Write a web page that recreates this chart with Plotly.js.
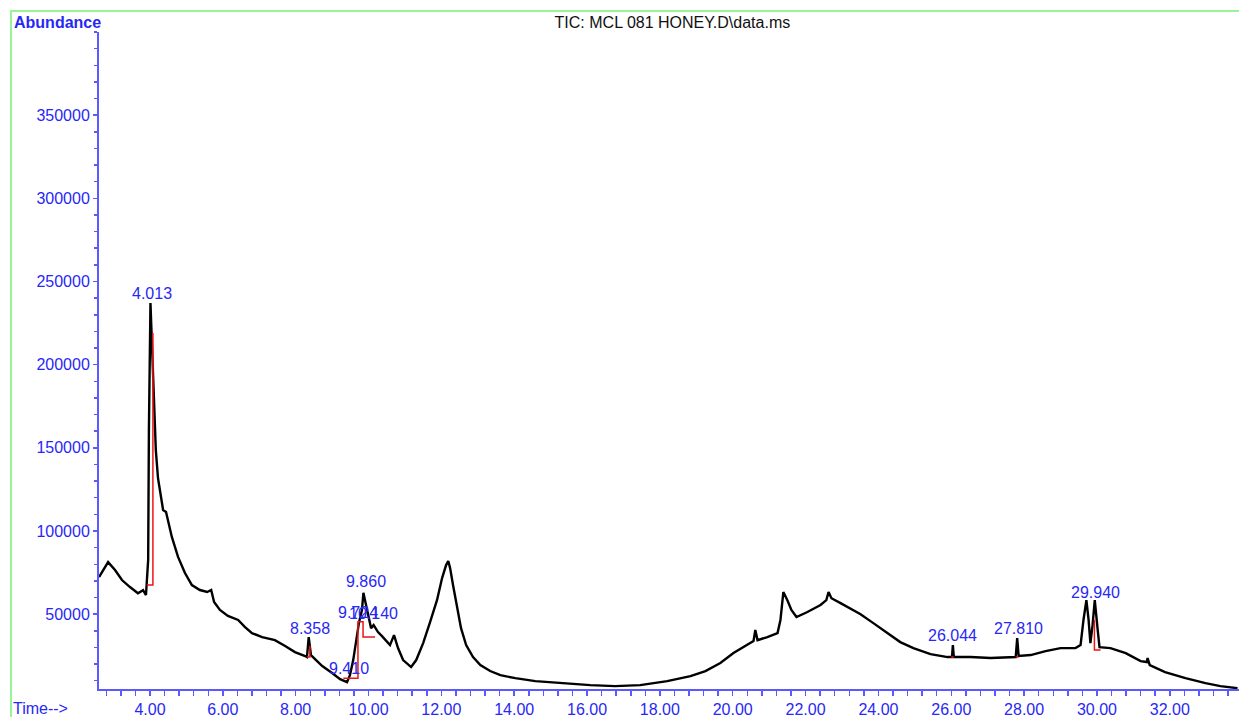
<!DOCTYPE html>
<html>
<head>
<meta charset="utf-8">
<script src="https://cdn.plot.ly/plotly-3.0.1.min.js"></script>
<style>
  html, body { margin: 0; padding: 0; background: #fff; }
  #wrap { position: relative; width: 1239px; height: 717px; overflow: hidden; }
  #chart { position: absolute; left: 0; top: 0; width: 1239px; height: 717px; }
  #frame { position: absolute; left: 10px; top: 10px; width: 1240px; height: 720px;
           border-top: 2px solid rgb(150,245,150); border-left: 2px solid rgb(150,245,150);
           pointer-events: none; }
</style>
</head>
<body>
<div id="wrap"><div id="chart"></div><div id="frame"></div></div>
<script>
// Total ion chromatogram (time in minutes, abundance in counts)
const timeMin = [
  2.60, 2.71, 2.85, 3.04, 3.23, 3.45, 3.67, 3.81, 3.89, 3.95, 3.97, 4.013,
  4.05, 4.11, 4.16, 4.22, 4.30, 4.36, 4.44, 4.52, 4.60, 4.77, 4.96, 5.15,
  5.37, 5.57, 5.68, 5.76, 5.92, 6.14, 6.42, 6.61, 6.80, 7.08, 7.43, 7.71,
  7.98, 8.26, 8.31, 8.358, 8.42, 8.56, 8.73, 9.00, 9.22, 9.41, 9.49, 9.58,
  9.66, 9.74, 9.82, 9.86, 9.93, 9.99, 10.07, 10.14, 10.26, 10.37, 10.48, 10.59,
  10.70, 10.81, 10.95, 11.09, 11.17, 11.31, 11.50, 11.69, 11.88, 12.02, 12.13, 12.19,
  12.24, 12.32, 12.43, 12.54, 12.68, 12.87, 13.07, 13.34, 13.62, 14.03, 14.58, 15.26,
  16.09, 16.77, 17.46, 18.20, 18.84, 19.25, 19.66, 20.02, 20.40, 20.57, 20.62, 20.68,
  20.95, 21.23, 21.31, 21.39, 21.50, 21.61, 21.75, 22.05, 22.41, 22.57, 22.63, 22.71,
  22.96, 23.23, 23.51, 23.86, 24.25, 24.60, 24.96, 25.43, 25.90, 26.02, 26.044, 26.07,
  26.53, 27.08, 27.77, 27.810, 27.85, 28.18, 28.59, 29.00, 29.41, 29.55, 29.63, 29.71,
  29.77, 29.82, 29.88, 29.94, 30.02, 30.07, 30.37, 30.79, 31.20, 31.37, 31.39, 31.45,
  31.87, 32.43, 32.98, 33.39, 33.86
];
const abundance = [
  72300, 76500, 81300, 76500, 70500, 66300, 62600, 64400, 61500, 82600, 160700, 237000,
  214800, 178700, 148600, 131800, 121600, 112600, 111400, 103600, 96400, 84400, 74700, 67500,
  64500, 63300, 64500, 57300, 52500, 48900, 46500, 42200, 38600, 36200, 34400, 30800,
  27200, 24800, 24200, 36200, 25400, 22400, 18800, 14600, 10900, 9100, 13300, 22400,
  32600, 45200, 52400, 62800, 55600, 49400, 41600, 43400, 39200, 36800, 34400, 31400,
  37400, 29600, 22400, 19400, 18200, 22400, 32600, 45200, 58400, 71700, 79500, 81900,
  77700, 67500, 53600, 41600, 31400, 24200, 19400, 15800, 13300, 11500, 9700, 8500,
  7300, 6700, 7300, 9700, 12700, 15800, 20600, 26600, 31400, 33800, 40500, 34400,
  36200, 38600, 46500, 63300, 58400, 52500, 48300, 51300, 55500, 58400, 63300, 59600,
  56600, 53600, 50000, 44600, 38600, 33200, 29600, 26000, 24200, 24200, 31400, 24200,
  24200, 23600, 24200, 35600, 24800, 25400, 27800, 29600, 29600, 31400, 46500, 58400,
  46500, 32600, 43400, 58400, 40500, 30200, 29600, 26600, 21800, 21200, 23600, 19400,
  15200, 11500, 8500, 6700, 5500
];

// Integration baselines / drop lines (segments separated by null)
const baseTime = [3.91, 4.08, 4.08, null,
                  8.31, 8.39, 8.39, null,
                  9.31, 9.71, 9.71, 9.85, 9.85, 10.18, null,
                  26.00, 26.07, null,
                  27.77, 27.84, null,
                  29.93, 29.93, 30.10];
const baseAbund = [67600, 67600, 219000, null,
                   24200, 24200, 31000, null,
                   11500, 11500, 45400, 45400, 36200, 36200, null,
                   24200, 24200, null,
                   24200, 24200, null,
                   46600, 28400, 28400];

// Peak labels
const peakLabels = ["4.013", "8.358", "9.860", "9.724", "10.140", "9.410", "26.044", "27.810", "29.940"];
const peakLabelTime = [4.05, 8.40, 9.92, 9.71, 10.14, 9.46, 26.044, 27.85, 29.96];
const peakLabelAbund = [243000, 41600, 69900, 51200, 50600, 17600, 37400, 41600, 63300];

const yTickVals = [50000, 100000, 150000, 200000, 250000, 300000, 350000];
const xTickVals = [4, 6, 8, 10, 12, 14, 16, 18, 20, 22, 24, 26, 28, 30, 32];

const BLUE = 'rgb(40,40,245)';
const AXIS = 'rgb(90,90,255)';
const FONT = 'Liberation Sans, Arial, Helvetica, sans-serif';

const traces = [
  { x: timeMin, y: abundance, type: 'scatter', mode: 'lines',
    line: { color: '#000', width: 2.4 }, hoverinfo: 'x+y' },
  { x: baseTime, y: baseAbund, type: 'scatter', mode: 'lines',
    line: { color: 'rgb(240,20,20)', width: 1.5 }, connectgaps: false, hoverinfo: 'skip' }
];

const annotations = peakLabels.map((t, i) => ({
  text: t, x: peakLabelTime[i], y: peakLabelAbund[i], xref: 'x', yref: 'y',
  showarrow: false, xanchor: 'center', yanchor: 'middle',
  font: { family: FONT, size: 16, color: BLUE }
}));
annotations.push({
  text: 'Abundance', xref: 'paper', yref: 'paper', x: -0.076, y: 1.0152,
  xanchor: 'left', yanchor: 'middle', showarrow: false,
  font: { family: FONT, size: 16, color: BLUE, weight: 'bold' }
});
annotations.push({
  text: 'Time-->', xref: 'paper', yref: 'paper', x: -0.077, y: -0.029,
  xanchor: 'left', yanchor: 'middle', showarrow: false,
  font: { family: FONT, size: 16, color: BLUE }
});

const layout = {
  width: 1239, height: 717,
  margin: { l: 99, r: 0, t: 32, b: 28, pad: 0 },
  paper_bgcolor: '#fff', plot_bgcolor: '#fff',
  showlegend: false,
  title: { text: 'TIC: MCL 081 HONEY.D\\data.ms', xref: 'paper', x: 0.503,
           yref: 'container', y: 1 - 22 / 717, yanchor: 'middle', xanchor: 'center',
           font: { family: FONT, size: 16, color: '#111' } },
  xaxis: {
    range: [2.6, 33.9], showgrid: false, zeroline: false,
    showline: true, linecolor: AXIS, linewidth: 2,
    tickmode: 'array', tickvals: xTickVals, ticktext: xTickVals.map(v => v.toFixed(2)),
    ticks: 'outside', ticklen: 5, tickwidth: 1.5, tickcolor: AXIS,
    minor: { dtick: 0.4, tick0: 0, ticks: 'outside', ticklen: 5, tickwidth: 1.5, tickcolor: AXIS, showgrid: false },
    tickfont: { family: FONT, size: 16, color: BLUE }
  },
  yaxis: {
    range: [5000, 400000], showgrid: false, zeroline: false,
    showline: true, linecolor: AXIS, linewidth: 2,
    tickmode: 'array', tickvals: yTickVals, ticktext: yTickVals.map(v => String(v)),
    ticks: 'outside', ticklen: 4, tickwidth: 1.5, tickcolor: AXIS,
    minor: { dtick: 10000, tick0: 0, ticks: 'outside', ticklen: 3, tickwidth: 1.5, tickcolor: AXIS, showgrid: false },
    tickfont: { family: FONT, size: 16, color: BLUE }
  },
  annotations: annotations
};

Plotly.newPlot('chart', traces, layout, { staticPlot: true, displayModeBar: false });
</script>
</body>
</html>
